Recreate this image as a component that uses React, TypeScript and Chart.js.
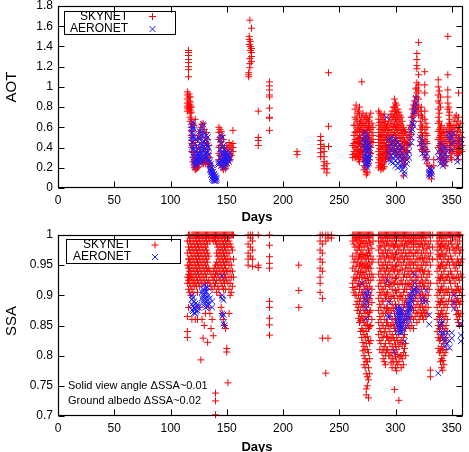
import { useEffect, useRef } from 'react';
import { Chart, registerables } from 'chart.js';

Chart.register(...registerables);

type Column = [number, number[]];

const FONT = '"Liberation Sans", Arial, Helvetica, sans-serif';
const RED = '#ff0000';
const BLUE = '#1a1aff';

const dayTicks = [0, 50, 100, 150, 200, 250, 300, 350];
const dayTickLabels = ['0', '50', '100', '150', '200', '250', '300', '350'];
const aotTicks = [0, 0.2, 0.4, 0.6, 0.8, 1, 1.2, 1.4, 1.6, 1.8];
const aotTickLabels = ['0', '0.2', '0.4', '0.6', '0.8', '1', '1.2', '1.4', '1.6', '1.8'];
const ssaTicks = [0.7, 0.75, 0.8, 0.85, 0.9, 0.95, 1];
const ssaTickLabels = ['0.7', '0.75', '0.8', '0.85', '0.9', '0.95', '1'];

const seriesNames = ['SKYNET', 'AERONET'];
const notes = ['Solid view angle \u0394SSA~0.01', 'Ground albedo \u0394SSA~0.02'];

// AOT, SKYNET: [day, values observed that day]
const skynetAot: Column[] = [
  [115, [0.95, 0.92, 0.88, 0.84, 0.81, 0.79, 0.76]],
  [116, [1.36, 1.34, 1.31, 1.27, 1.24, 1.2, 1.17, 1.1]],
  [116.5, [0.93, 0.9, 0.86, 0.83, 0.8, 0.78]],
  [117.5, [0.9, 0.85, 0.82, 0.8, 0.77, 0.74, 0.7, 0.66]],
  [118.5, [0.8, 0.75, 0.68, 0.63, 0.6, 0.57, 0.52]],
  [119, [0.6, 0.56, 0.5, 0.47, 0.44, 0.4, 0.36]],
  [120, [0.64, 0.52, 0.42, 0.35, 0.3, 0.26]],
  [121, [0.62, 0.33, 0.28, 0.25, 0.22, 0.2]],
  [122, [0.68, 0.45, 0.3, 0.24, 0.2, 0.18]],
  [123, [0.4, 0.28, 0.22, 0.19]],
  [124, [0.48, 0.35, 0.25, 0.2]],
  [125, [0.52, 0.3, 0.24, 0.21]],
  [126, [0.56, 0.4, 0.32, 0.26]],
  [127, [0.6, 0.5, 0.36, 0.28]],
  [128, [0.63, 0.45, 0.3, 0.25]],
  [129, [0.64, 0.55, 0.38, 0.27, 0.24]],
  [130, [0.58, 0.42, 0.3, 0.26]],
  [131, [0.5, 0.36, 0.28, 0.24]],
  [132, [0.55, 0.44, 0.32, 0.27]],
  [133, [0.48, 0.38, 0.3, 0.25]],
  [134, [0.42, 0.34, 0.27, 0.23]],
  [135, [0.3, 0.24, 0.21]],
  [136, [0.22, 0.17]],
  [137, [0.18, 0.14]],
  [138, [0.15, 0.1]],
  [139, [0.12, 0.08]],
  [140, [0.09]],
  [143, [0.6, 0.55, 0.48, 0.4, 0.34, 0.28]],
  [144, [0.58, 0.5, 0.42, 0.32, 0.26]],
  [145, [0.56, 0.46, 0.36, 0.28, 0.22]],
  [146, [0.52, 0.42, 0.32, 0.25, 0.2]],
  [147, [0.48, 0.36, 0.28, 0.22, 0.18]],
  [148, [0.4, 0.33, 0.26, 0.21]],
  [149, [0.36, 0.3, 0.24, 0.19]],
  [150, [0.42, 0.34, 0.27, 0.22]],
  [151, [0.4, 0.32, 0.26]],
  [152, [0.45, 0.38, 0.3]],
  [153, [0.42, 0.34, 0.28]],
  [154, [0.4, 0.32]],
  [155.5, [0.57, 0.44, 0.4, 0.36]],
  [169.5, [1.14, 1.12, 1.1]],
  [170, [1.5, 1.47, 1.42]],
  [170.5, [1.66, 1.28, 1.23, 1.19]],
  [171, [1.45, 1.4, 1.36]],
  [172, [1.58, 1.38, 1.34, 1.3, 1.25]],
  [178, [0.76, 0.5, 0.47, 0.42]],
  [188, [1.05, 1.01, 0.97, 0.92, 0.9, 0.79, 0.7, 0.69, 0.57]],
  [212.5, [0.36, 0.33]],
  [233.5, [0.51, 0.47, 0.43, 0.39, 0.35, 0.31]],
  [236.5, [0.41, 0.36, 0.31, 0.26, 0.22, 0.19]],
  [239, [0.24, 0.19, 0.15]],
  [240.5, [1.14, 0.61, 0.41]],
  [262, [0.42, 0.33, 0.3]],
  [263, [0.62, 0.52, 0.44, 0.36]],
  [264, [0.78, 0.7, 0.62, 0.55, 0.48, 0.4, 0.34, 0.3]],
  [265, [0.82, 0.68, 0.56, 0.46, 0.38, 0.31]],
  [266, [0.74, 0.66, 0.58, 0.52, 0.45, 0.38, 0.32]],
  [267, [0.76, 0.6, 0.49, 0.41, 0.34, 0.28]],
  [268, [0.8, 0.72, 0.64, 0.56, 0.5, 0.44, 0.36, 0.3, 0.26]],
  [269, [0.66, 0.58, 0.5, 0.43, 0.37, 0.31]],
  [270, [1.05, 0.7, 0.62, 0.55, 0.47, 0.41, 0.35]],
  [271, [0.74, 0.64, 0.56, 0.49, 0.43, 0.38, 0.33, 0.28]],
  [272, [0.68, 0.6, 0.52, 0.46, 0.4, 0.3, 0.22, 0.18]],
  [273, [0.7, 0.62, 0.54, 0.49, 0.43, 0.35, 0.27, 0.2]],
  [274, [0.72, 0.64, 0.57, 0.48, 0.42, 0.36, 0.26, 0.16, 0.13]],
  [275, [0.68, 0.58, 0.52, 0.45, 0.39, 0.29, 0.22, 0.15]],
  [276, [0.66, 0.6, 0.5, 0.44, 0.38, 0.32, 0.24]],
  [277, [0.7, 0.62, 0.55, 0.48, 0.41, 0.35, 0.28]],
  [278, [0.74, 0.58, 0.46, 0.4, 0.34]],
  [279, [0.64, 0.55, 0.48]],
  [280, [0.6, 0.52, 0.45]],
  [285, [0.76, 0.68, 0.62, 0.55, 0.48, 0.42, 0.36, 0.3, 0.25, 0.2]],
  [286, [0.74, 0.65, 0.58, 0.51, 0.45, 0.39, 0.33, 0.28, 0.22]],
  [287, [0.72, 0.65, 0.58, 0.52, 0.45, 0.38, 0.32, 0.27, 0.22, 0.18]],
  [288, [0.68, 0.6, 0.53, 0.47, 0.41, 0.34, 0.29, 0.23, 0.2]],
  [289, [0.7, 0.62, 0.55, 0.5, 0.44, 0.36, 0.3, 0.24, 0.19]],
  [290, [0.73, 0.64, 0.57, 0.48, 0.4, 0.33, 0.26, 0.21]],
  [291, [0.66, 0.58, 0.5, 0.42, 0.35, 0.28]],
  [292, [0.6, 0.52, 0.45, 0.38, 0.31]],
  [293, [0.62, 0.55, 0.48, 0.4, 0.34]],
  [294, [0.66, 0.57, 0.5, 0.43, 0.36, 0.29]],
  [295, [0.7, 0.6, 0.52, 0.45, 0.38, 0.3]],
  [296, [0.73, 0.64, 0.55, 0.47, 0.4, 0.33]],
  [297, [0.76, 0.68, 0.58, 0.5, 0.42]],
  [298, [0.8, 0.7, 0.61, 0.53, 0.45, 0.37]],
  [299, [0.88, 0.8, 0.72, 0.63, 0.55, 0.46, 0.38]],
  [300, [0.84, 0.76, 0.68, 0.6, 0.52, 0.44, 0.36]],
  [301, [0.82, 0.74, 0.66, 0.58, 0.5, 0.42, 0.34]],
  [302, [0.78, 0.7, 0.62, 0.55, 0.47, 0.39, 0.32]],
  [303, [0.75, 0.68, 0.6, 0.52, 0.44, 0.36, 0.3]],
  [304, [0.72, 0.64, 0.57, 0.49, 0.41, 0.33]],
  [305, [0.7, 0.62, 0.54, 0.46, 0.38, 0.3]],
  [306, [0.66, 0.58, 0.5, 0.42, 0.34, 0.26]],
  [307, [0.6, 0.5, 0.4, 0.3, 0.22, 0.12]],
  [308, [0.56, 0.46, 0.38, 0.3, 0.24]],
  [309, [0.55, 0.45, 0.36, 0.28]],
  [310, [0.52, 0.44, 0.37, 0.3]],
  [311, [0.5, 0.42, 0.35]],
  [312, [0.58, 0.5, 0.43]],
  [313, [0.62, 0.55, 0.48]],
  [314, [0.7, 0.6, 0.53]],
  [315, [0.78, 0.7, 0.62]],
  [316, [0.82, 0.74, 0.66]],
  [317, [0.86, 0.8, 0.74]],
  [318, [0.98, 0.9, 0.84, 0.78]],
  [319, [1.33, 1.27, 1.21, 1.18, 1.04, 0.99, 0.94, 0.9, 0.82, 0.76]],
  [320.5, [1.44, 1.12, 1.02, 0.96, 0.88, 0.8, 0.72]],
  [322, [0.76, 0.66, 0.58, 0.5, 0.42]],
  [323, [0.8, 0.72, 0.62, 0.55, 0.46, 0.38]],
  [324, [0.7, 0.6, 0.52, 0.44, 0.36]],
  [326, [1.15, 1.02, 0.94, 0.76, 0.68, 0.58, 0.48, 0.4, 0.33]],
  [327, [0.64, 0.54, 0.46, 0.38, 0.3]],
  [328, [0.6, 0.52, 0.44, 0.36, 0.28, 0.24]],
  [330, [0.22, 0.16, 0.12]],
  [332, [0.2, 0.14, 0.09]],
  [334, [0.28, 0.22]],
  [338, [1.07, 1.0, 0.92, 0.86, 0.78, 0.7, 0.64, 0.56, 0.48, 0.4]],
  [339, [0.96, 0.84, 0.74, 0.66, 0.58, 0.5, 0.42, 0.34]],
  [340, [0.9, 0.8, 0.6, 0.52, 0.44, 0.36, 0.28]],
  [341, [0.62, 0.54, 0.46, 0.38, 0.3]],
  [342, [0.55, 0.46, 0.38, 0.3, 0.24]],
  [343, [0.58, 0.5, 0.42, 0.34, 0.27]],
  [344, [0.52, 0.44, 0.36, 0.28, 0.22]],
  [345, [0.56, 0.48, 0.4, 0.32, 0.26]],
  [346.5, [1.5, 1.12, 0.97, 0.9, 0.84, 0.78, 0.6, 0.5, 0.42]],
  [347.5, [0.8, 0.72, 0.64, 0.56, 0.48]],
  [348, [0.75, 0.68, 0.62, 0.55, 0.46, 0.38]],
  [349, [0.62, 0.54, 0.46, 0.38, 0.3]],
  [350, [0.58, 0.5, 0.42, 0.34, 0.28]],
  [351, [0.6, 0.52, 0.44, 0.36]],
  [352, [0.66, 0.56, 0.46, 0.38]],
  [353, [0.7, 0.6, 0.5, 0.42]],
  [354, [0.72, 0.62, 0.52, 0.44, 0.36]],
  [355, [0.66, 0.56, 0.47, 0.4, 0.32]],
  [356, [0.94, 0.7, 0.6, 0.5, 0.42, 0.34, 0.28]],
  [357, [0.6, 0.5, 0.42, 0.35]],
  [358, [0.64, 0.55, 0.46, 0.38]],
  [359, [0.5, 0.42, 0.36]],
];

// AOT, AERONET
const aeronetAot: Column[] = [
  [119, [0.62, 0.58, 0.55, 0.5, 0.45, 0.4]],
  [120, [0.65, 0.6, 0.52, 0.46, 0.38, 0.33]],
  [121, [0.58, 0.5, 0.4, 0.3, 0.26]],
  [122, [0.48, 0.35, 0.28, 0.24, 0.21]],
  [123, [0.36, 0.32, 0.27, 0.23]],
  [124, [0.42, 0.34, 0.29]],
  [125, [0.5, 0.38, 0.31, 0.26]],
  [126, [0.56, 0.48, 0.4, 0.33]],
  [127, [0.55, 0.44, 0.36, 0.3, 0.25]],
  [128, [0.6, 0.52, 0.42, 0.34, 0.28]],
  [129, [0.63, 0.5, 0.4, 0.32, 0.26]],
  [130, [0.55, 0.46, 0.38, 0.3]],
  [131, [0.48, 0.4, 0.34, 0.28]],
  [132, [0.52, 0.44, 0.36, 0.31]],
  [133, [0.5, 0.42, 0.35]],
  [134, [0.4, 0.33, 0.28]],
  [135, [0.26, 0.22, 0.18]],
  [136, [0.24, 0.2, 0.16, 0.13]],
  [137, [0.18, 0.14, 0.11, 0.09]],
  [138, [0.16, 0.12, 0.1, 0.08]],
  [139, [0.14, 0.11, 0.08, 0.07]],
  [140, [0.12, 0.09, 0.07]],
  [141, [0.1, 0.08]],
  [142.5, [0.25, 0.23]],
  [144, [0.48, 0.38, 0.3, 0.25]],
  [145, [0.52, 0.44, 0.35, 0.28, 0.22]],
  [146, [0.5, 0.4, 0.33, 0.26]],
  [147, [0.42, 0.35, 0.29, 0.24, 0.2]],
  [148, [0.38, 0.31, 0.26, 0.21]],
  [149, [0.34, 0.28, 0.23]],
  [150, [0.36, 0.3, 0.25]],
  [151, [0.33, 0.27]],
  [152, [0.3, 0.26]],
  [153, [0.35, 0.29]],
  [271, [0.48, 0.42]],
  [273, [0.55, 0.5, 0.44, 0.38, 0.32, 0.28, 0.24]],
  [274, [0.52, 0.46, 0.4, 0.35, 0.3, 0.26, 0.22]],
  [275, [0.48, 0.42, 0.36, 0.31, 0.27, 0.23, 0.2]],
  [276, [0.44, 0.38, 0.33, 0.28, 0.25]],
  [277, [0.4, 0.34, 0.3]],
  [292, [0.7]],
  [294, [0.48, 0.4, 0.34, 0.28]],
  [296, [0.5, 0.44, 0.38, 0.32, 0.26]],
  [298, [0.46, 0.4, 0.35, 0.3, 0.25]],
  [300, [0.48, 0.42, 0.36, 0.31, 0.27, 0.22]],
  [302, [0.45, 0.4, 0.34, 0.29, 0.24, 0.2]],
  [304, [0.42, 0.37, 0.32, 0.27, 0.22]],
  [306, [0.4, 0.34, 0.28, 0.22, 0.18]],
  [308, [0.3, 0.22, 0.16, 0.13]],
  [310, [0.34, 0.28, 0.24]],
  [312, [0.42, 0.36, 0.3]],
  [314, [0.56, 0.5, 0.45]],
  [315, [0.64, 0.58]],
  [316, [0.74, 0.68, 0.62]],
  [317, [0.8, 0.76]],
  [318, [0.89, 0.84]],
  [322, [0.5, 0.44]],
  [324, [0.46, 0.4, 0.34]],
  [326, [0.42, 0.36, 0.3]],
  [328, [0.34, 0.28]],
  [330, [0.2, 0.16, 0.13]],
  [331, [0.19, 0.15, 0.12]],
  [332, [0.17, 0.14]],
  [338, [0.36, 0.3]],
  [340, [0.44, 0.38, 0.32, 0.28, 0.24]],
  [342, [0.42, 0.36, 0.3, 0.26, 0.22]],
  [344, [0.4, 0.34, 0.28, 0.24]],
  [346, [0.36, 0.3]],
  [347.5, [0.54, 0.5]],
  [350, [0.5, 0.44, 0.38]],
  [352, [0.54, 0.46]],
  [355, [0.3, 0.26]],
  [358, [0.48, 0.43]],
];

// SSA, SKYNET
const skynetSsa: Column[] = [
  [115, [0.99, 0.97, 0.95, 0.93, 0.92, 0.865, 0.84, 0.83]],
  [116, [1.0, 0.98, 0.96, 0.945, 0.935, 0.925, 0.91, 0.88]],
  [117, [1.0, 0.99, 0.975, 0.96, 0.95, 0.94, 0.93, 0.92, 0.905]],
  [118, [0.995, 0.985, 0.97, 0.955, 0.94, 0.93, 0.915, 0.9]],
  [119, [1.0, 0.98, 0.965, 0.95, 0.935, 0.925, 0.91, 0.86]],
  [120, [1.0, 0.99, 0.975, 0.96, 0.945, 0.93, 0.92, 0.905]],
  [121, [1.0, 0.985, 0.97, 0.955, 0.94, 0.925, 0.915]],
  [122, [1.0, 0.995, 0.98, 0.965, 0.95, 0.935, 0.92, 0.86]],
  [123, [1.0, 0.99, 0.975, 0.96, 0.945, 0.93, 0.915]],
  [124, [1.0, 0.985, 0.97, 0.955, 0.94, 0.925, 0.905, 0.86]],
  [125, [1.0, 0.995, 0.98, 0.965, 0.95, 0.935, 0.92]],
  [126, [1.0, 0.99, 0.975, 0.96, 0.945, 0.93, 0.915, 0.88]],
  [127, [1.0, 0.985, 0.97, 0.955, 0.94, 0.925, 0.793]],
  [128, [1.0, 0.995, 0.98, 0.965, 0.95, 0.935, 0.92, 0.86]],
  [129, [1.0, 0.99, 0.975, 0.96, 0.945, 0.93, 0.829]],
  [130, [1.0, 0.985, 0.97, 0.955, 0.94, 0.925, 0.85]],
  [131, [1.0, 0.995, 0.98, 0.965, 0.95, 0.935, 0.92, 0.87]],
  [132, [1.0, 0.99, 0.975, 0.96, 0.945, 0.93, 0.91]],
  [133, [1.0, 0.985, 0.97, 0.955, 0.94, 0.92, 0.822]],
  [134, [1.0, 0.995, 0.965, 0.945, 0.925, 0.88]],
  [135, [1.0, 0.99, 0.94, 0.92, 0.87]],
  [136, [1.0, 0.935, 0.915, 0.845]],
  [137, [1.0, 0.995, 0.93, 0.91, 0.86]],
  [138, [1.0, 0.99, 0.94, 0.925, 0.833]],
  [139, [1.0, 0.995, 0.945, 0.93, 0.915]],
  [140, [1.0, 0.99, 0.95, 0.935, 0.92, 0.738, 0.725, 0.702]],
  [141, [1.0, 0.985, 0.97, 0.955, 0.94, 0.925, 0.905]],
  [142, [1.0, 0.995, 0.98, 0.965, 0.95, 0.935, 0.915]],
  [143, [1.0, 0.99, 0.975, 0.96, 0.945, 0.93, 0.91]],
  [144, [1.0, 0.985, 0.97, 0.955, 0.94, 0.925, 0.9]],
  [145, [1.0, 0.995, 0.98, 0.965, 0.95, 0.935, 0.92, 0.88]],
  [146, [1.0, 0.99, 0.975, 0.96, 0.945, 0.93, 0.915, 0.87]],
  [147, [1.0, 0.985, 0.97, 0.955, 0.94, 0.925, 0.91, 0.86]],
  [148, [1.0, 0.995, 0.98, 0.965, 0.95, 0.935, 0.92, 0.85]],
  [149, [1.0, 0.99, 0.975, 0.96, 0.945, 0.93, 0.91, 0.845]],
  [150, [1.0, 0.985, 0.97, 0.955, 0.94, 0.925, 0.812, 0.806]],
  [151, [1.0, 0.995, 0.98, 0.96, 0.94, 0.92, 0.755]],
  [152, [1.0, 0.99, 0.97, 0.95, 0.93, 0.91, 0.87]],
  [153, [1.0, 0.985, 0.96, 0.94, 0.92, 0.9]],
  [154, [1.0, 0.98, 0.95, 0.93, 0.905]],
  [155, [1.0, 0.975, 0.94, 0.915]],
  [156, [1.0, 0.96, 0.93]],
  [169, [1.0, 0.985, 0.97, 0.96, 0.95]],
  [171, [1.0, 0.995, 0.98, 0.965]],
  [173, [1.0, 0.99, 0.975, 0.96, 0.948]],
  [178, [1.0, 0.95, 0.946]],
  [188, [1.0, 0.983, 0.964, 0.953, 0.945, 0.89, 0.88, 0.862, 0.851, 0.834]],
  [214, [0.95, 0.908, 0.88]],
  [233, [1.0, 0.99, 0.975, 0.96, 0.945, 0.93, 0.92, 0.905]],
  [235, [1.0, 0.985, 0.97, 0.955, 0.94, 0.895, 0.829]],
  [238, [1.0, 0.99, 0.771]],
  [240, [1.0, 0.995, 0.829]],
  [243, [1.0, 0.995]],
  [262, [1.0, 0.99, 0.965, 0.945, 0.92, 0.913]],
  [263, [1.0, 0.985, 0.955, 0.93, 0.905]],
  [264, [1.0, 0.995, 0.98, 0.96, 0.94, 0.925, 0.91, 0.9]],
  [265, [1.0, 0.992, 0.97, 0.948, 0.928, 0.9, 0.885]],
  [266, [1.0, 0.99, 0.975, 0.955, 0.935, 0.915, 0.89, 0.875]],
  [267, [1.0, 0.982, 0.962, 0.94, 0.92, 0.9, 0.88, 0.862]],
  [268, [1.0, 0.995, 0.98, 0.965, 0.95, 0.93, 0.91, 0.89, 0.87, 0.855]],
  [269, [1.0, 0.987, 0.968, 0.952, 0.938, 0.918, 0.895, 0.875, 0.858, 0.84]],
  [270, [1.0, 0.99, 0.975, 0.96, 0.945, 0.93, 0.905, 0.885, 0.865, 0.845, 0.83]],
  [271, [1.0, 0.986, 0.968, 0.952, 0.938, 0.922, 0.902, 0.882, 0.862, 0.842, 0.822, 0.808]],
  [272, [1.0, 0.995, 0.98, 0.965, 0.95, 0.935, 0.915, 0.895, 0.875, 0.855, 0.835, 0.815, 0.8, 0.785]],
  [273, [1.0, 0.986, 0.962, 0.946, 0.928, 0.91, 0.89, 0.87, 0.85, 0.83, 0.81, 0.795, 0.78]],
  [274, [1.0, 0.99, 0.97, 0.955, 0.94, 0.92, 0.9, 0.88, 0.86, 0.84, 0.82, 0.79, 0.77, 0.745, 0.735]],
  [275, [1.0, 0.982, 0.966, 0.948, 0.93, 0.912, 0.892, 0.872, 0.852, 0.832, 0.81, 0.79, 0.765, 0.75]],
  [276, [1.0, 0.995, 0.975, 0.96, 0.945, 0.925, 0.905, 0.885, 0.865, 0.845, 0.825, 0.805, 0.78, 0.76, 0.73]],
  [277, [1.0, 0.988, 0.97, 0.952, 0.935, 0.915, 0.895, 0.872, 0.848, 0.82, 0.795, 0.77]],
  [278, [1.0, 0.985, 0.965, 0.945, 0.925, 0.9, 0.875, 0.85, 0.825]],
  [279, [1.0, 0.978, 0.955, 0.935, 0.91, 0.888, 0.86]],
  [280, [1.0, 0.99, 0.96, 0.93]],
  [285, [1.0, 0.99, 0.975, 0.955, 0.935, 0.915, 0.895, 0.875, 0.855, 0.835]],
  [286, [1.0, 0.982, 0.965, 0.945, 0.925, 0.905, 0.885, 0.865, 0.845, 0.825, 0.81]],
  [287, [1.0, 0.995, 0.98, 0.96, 0.94, 0.92, 0.9, 0.88, 0.86, 0.84, 0.82]],
  [288, [1.0, 0.988, 0.97, 0.95, 0.93, 0.91, 0.89, 0.87, 0.85, 0.83, 0.805]],
  [289, [1.0, 0.99, 0.97, 0.95, 0.93, 0.91, 0.89, 0.87, 0.85, 0.83, 0.81, 0.795]],
  [290, [1.0, 0.982, 0.962, 0.942, 0.922, 0.902, 0.88, 0.86, 0.838, 0.815, 0.79]],
  [291, [1.0, 0.995, 0.975, 0.955, 0.935, 0.915, 0.895, 0.87, 0.845, 0.82, 0.8, 0.785]],
  [292, [1.0, 0.985, 0.965, 0.945, 0.925, 0.902, 0.878, 0.855, 0.832, 0.808]],
  [293, [1.0, 0.99, 0.97, 0.95, 0.93, 0.905, 0.88, 0.855, 0.83, 0.81]],
  [294, [1.0, 0.982, 0.962, 0.94, 0.918, 0.895, 0.872, 0.848, 0.825, 0.8]],
  [295, [1.0, 0.995, 0.975, 0.955, 0.935, 0.915, 0.89, 0.865, 0.84, 0.82, 0.8]],
  [296, [1.0, 0.985, 0.965, 0.945, 0.922, 0.898, 0.875, 0.85, 0.828, 0.805, 0.788]],
  [297, [1.0, 0.99, 0.97, 0.95, 0.93, 0.91, 0.885, 0.86, 0.835, 0.815, 0.795, 0.78]],
  [298, [1.0, 0.982, 0.962, 0.942, 0.92, 0.9, 0.878, 0.852, 0.83, 0.81, 0.79]],
  [299, [1.0, 0.995, 0.98, 0.96, 0.94, 0.92, 0.895, 0.87, 0.845, 0.825, 0.805, 0.744]],
  [300, [1.0, 0.985, 0.968, 0.948, 0.928, 0.908, 0.885, 0.862, 0.84, 0.818, 0.798, 0.78]],
  [301, [1.0, 0.99, 0.97, 0.95, 0.93, 0.905, 0.88, 0.855, 0.83, 0.81, 0.79, 0.775]],
  [302, [1.0, 0.98, 0.96, 0.94, 0.918, 0.895, 0.87, 0.848, 0.825, 0.802, 0.785]],
  [303, [1.0, 0.995, 0.975, 0.955, 0.935, 0.91, 0.885, 0.86, 0.835, 0.815, 0.79, 0.726]],
  [304, [1.0, 0.982, 0.962, 0.942, 0.92, 0.898, 0.872, 0.848, 0.822, 0.798]],
  [305, [1.0, 0.99, 0.97, 0.95, 0.925, 0.9, 0.875, 0.85, 0.825, 0.8, 0.78]],
  [306, [1.0, 0.985, 0.965, 0.942, 0.918, 0.892, 0.868, 0.842, 0.818, 0.795]],
  [307, [1.0, 0.995, 0.975, 0.955, 0.93, 0.905, 0.88, 0.855, 0.83, 0.805, 0.785]],
  [308, [1.0, 0.982, 0.96, 0.935, 0.91, 0.885, 0.86, 0.835, 0.812]],
  [309, [1.0, 0.99, 0.97, 0.945, 0.92, 0.895, 0.87, 0.845, 0.82, 0.8]],
  [310, [1.0, 0.985, 0.965, 0.95, 0.93, 0.91, 0.888, 0.862]],
  [311, [1.0, 0.995, 0.98, 0.96, 0.94, 0.92, 0.9, 0.875, 0.85]],
  [312, [1.0, 0.988, 0.97, 0.952, 0.935, 0.918, 0.9, 0.882, 0.865, 0.85]],
  [313, [1.0, 0.99, 0.975, 0.96, 0.945, 0.93, 0.915, 0.9, 0.88, 0.86, 0.845]],
  [314.5, [1.0, 0.995, 0.985, 0.97, 0.955, 0.94, 0.925, 0.91, 0.895, 0.88, 0.865, 0.85]],
  [316, [1.0, 0.99, 0.98, 0.965, 0.95, 0.935, 0.92, 0.905, 0.89, 0.875, 0.86, 0.845]],
  [317.5, [1.0, 0.995, 0.985, 0.97, 0.955, 0.94, 0.925, 0.91, 0.895, 0.88, 0.865]],
  [319, [1.0, 0.99, 0.975, 0.96, 0.945, 0.93, 0.915, 0.9, 0.885, 0.87, 0.855]],
  [320, [1.0, 0.985, 0.97, 0.95, 0.93, 0.91, 0.89, 0.872]],
  [321, [1.0, 0.995, 0.98, 0.96, 0.94, 0.92, 0.9, 0.88, 0.86]],
  [322, [1.0, 0.985, 0.962, 0.942, 0.92, 0.9, 0.88, 0.865]],
  [323, [1.0, 0.99, 0.97, 0.95, 0.93, 0.91, 0.89, 0.87]],
  [324, [1.0, 0.982, 0.962, 0.942, 0.922, 0.902, 0.882, 0.866]],
  [325, [1.0, 0.995, 0.975, 0.955, 0.935, 0.915, 0.895, 0.875, 0.86]],
  [326, [1.0, 0.985, 0.962, 0.94, 0.915, 0.892, 0.872]],
  [327, [1.0, 0.99, 0.97, 0.95, 0.925, 0.9, 0.88, 0.865]],
  [328, [1.0, 0.978, 0.955, 0.93, 0.91, 0.89, 0.87]],
  [329, [1.0, 0.985, 0.965, 0.94, 0.92, 0.9, 0.88]],
  [330, [1.0, 0.98, 0.96, 0.935, 0.91]],
  [331, [1.0, 0.99, 0.97, 0.95, 0.92, 0.776, 0.765]],
  [333, [1.0, 0.98, 0.96]],
  [337, [1.0, 0.99, 0.975, 0.96, 0.94, 0.92, 0.9, 0.88, 0.86, 0.84]],
  [338, [1.0, 0.985, 0.968, 0.95, 0.93, 0.91, 0.89, 0.87, 0.85, 0.83, 0.812]],
  [339, [1.0, 0.995, 0.98, 0.965, 0.945, 0.925, 0.905, 0.885, 0.865, 0.845, 0.825, 0.805]],
  [340, [1.0, 0.982, 0.965, 0.948, 0.928, 0.908, 0.888, 0.868, 0.848, 0.828, 0.808, 0.79]],
  [341, [1.0, 0.99, 0.975, 0.955, 0.935, 0.915, 0.895, 0.875, 0.855, 0.835, 0.815, 0.795, 0.78]],
  [342, [1.0, 0.985, 0.968, 0.95, 0.93, 0.91, 0.89, 0.87, 0.85, 0.83, 0.81, 0.792, 0.776]],
  [343, [1.0, 0.995, 0.98, 0.96, 0.94, 0.92, 0.9, 0.88, 0.86, 0.84, 0.82, 0.8, 0.785]],
  [344, [1.0, 0.982, 0.965, 0.945, 0.925, 0.905, 0.885, 0.865, 0.845, 0.825, 0.805]],
  [345, [1.0, 0.99, 0.97, 0.95, 0.93, 0.91, 0.89, 0.87, 0.85, 0.83, 0.81]],
  [346, [1.0, 0.978, 0.955, 0.93, 0.905, 0.88, 0.86, 0.84]],
  [347, [1.0, 0.985, 0.96, 0.935, 0.91, 0.89]],
  [348, [1.0, 0.975, 0.95, 0.925, 0.9]],
  [349, [1.0, 0.99, 0.965, 0.94, 0.92]],
  [350, [1.0, 0.985, 0.96, 0.935, 0.91, 0.892]],
  [351, [1.0, 0.98, 0.955, 0.93, 0.905, 0.885]],
  [352, [1.0, 0.975, 0.95, 0.928, 0.905, 0.89]],
  [353, [1.0, 0.992, 0.97, 0.945, 0.92, 0.9, 0.88]],
  [354, [1.0, 0.978, 0.952, 0.93, 0.908, 0.888, 0.868]],
  [355, [1.0, 0.985, 0.96, 0.94, 0.915, 0.895, 0.875, 0.86]],
  [356, [1.0, 0.98, 0.955, 0.93, 0.91, 0.89, 0.87, 0.855]],
  [357, [1.0, 0.99, 0.97, 0.95, 0.925, 0.905, 0.885, 0.865, 0.85]],
  [358, [1.0, 0.975, 0.955, 0.935, 0.91, 0.89, 0.87]],
  [359, [0.96, 0.93, 0.9]],
];

// SSA, AERONET
const aeronetSsa: Column[] = [
  [119, [0.9, 0.893, 0.885, 0.876]],
  [120, [0.896, 0.882, 0.874]],
  [121, [0.89, 0.879, 0.871]],
  [122, [0.886, 0.877, 0.87]],
  [123, [0.881, 0.873]],
  [124, [0.885, 0.875]],
  [125, [0.88]],
  [128, [0.905, 0.895]],
  [129, [0.91, 0.9, 0.89]],
  [130, [0.917, 0.905, 0.895, 0.885]],
  [131, [0.912, 0.9, 0.89, 0.88]],
  [132, [0.906, 0.895, 0.885]],
  [133, [0.913, 0.892, 0.882]],
  [134, [0.9, 0.886]],
  [135, [0.895]],
  [137, [0.89, 0.88]],
  [146, [0.932, 0.9, 0.895, 0.87, 0.865]],
  [147, [0.892, 0.868, 0.854]],
  [148, [0.85]],
  [270, [0.92]],
  [273, [0.905, 0.895, 0.885]],
  [274, [0.9, 0.89, 0.878, 0.861]],
  [276, [0.907, 0.9]],
  [293, [0.924]],
  [294, [0.889, 0.866, 0.863]],
  [299, [0.806]],
  [301, [0.875, 0.865, 0.855]],
  [302, [0.88, 0.87, 0.86, 0.85, 0.84]],
  [303, [0.875, 0.865, 0.855, 0.845]],
  [304, [0.88, 0.87, 0.86, 0.85, 0.84]],
  [305, [0.875, 0.865, 0.855, 0.845, 0.838]],
  [306, [0.87, 0.86, 0.85, 0.84]],
  [307, [0.865, 0.855, 0.845]],
  [308, [0.86, 0.85, 0.824]],
  [310, [0.87, 0.86, 0.85]],
  [311, [0.885, 0.875, 0.865]],
  [312, [0.89, 0.88, 0.87, 0.86]],
  [313, [0.895, 0.885, 0.875]],
  [314, [0.9, 0.89, 0.88]],
  [315, [0.905, 0.895]],
  [316, [0.91, 0.9]],
  [317, [0.934, 0.92, 0.91]],
  [320, [0.91, 0.905]],
  [324, [0.895, 0.89]],
  [327, [0.908, 0.89]],
  [330, [0.867, 0.852]],
  [338, [0.771]],
  [340, [0.86, 0.85, 0.84]],
  [341, [0.854, 0.836]],
  [343, [0.838, 0.829]],
  [344, [0.825, 0.815]],
  [346, [0.838, 0.82]],
  [348, [0.813, 0.825]],
  [350, [0.829, 0.838]],
  [352, [0.9, 0.888, 0.878]],
  [358, [0.853, 0.834, 0.824]],
];

const toPoints = (cols: Column[]) =>
  cols.flatMap(([day, values]) => values.map((v) => ({ x: day, y: v })));

interface PanelSpec {
  skynet: Column[];
  aeronet: Column[];
  yMin: number;
  yMax: number;
  yTicks: number[];
  yTickLabels: string[];
  yTitle: string;
  yTitleY: number;
  xTitleY: number;
  padTop: number;
  xAxisHeight: number;
  legend: { x: number; y: number; w: number; h: number; textRight: number; markX: number; row1: number; row2: number };
  notes: string[];
  notesX: number;
  notesY: number[];
}

const TICK_LEN = 6;

// Frame with inward ticks on all four sides, boxed legend, notes and axis titles
function decorPlugin(spec: PanelSpec) {
  return {
    id: 'decor',
    afterDatasetsDraw(chart: any) {
      const { ctx, chartArea: a, scales } = chart;
      const xs = scales.x;
      const ys = scales.y;
      ctx.save();
      ctx.strokeStyle = '#000';
      ctx.lineWidth = 1;
      const L = Math.round(a.left) + 0.5;
      const R = Math.round(a.right) - 0.5;
      const T = Math.round(a.top) + 0.5;
      const B = Math.round(a.bottom) - 0.5;
      ctx.beginPath();
      for (const t of xs.ticks) {
        const px = Math.round(xs.getPixelForValue(t.value)) + 0.5;
        ctx.moveTo(px, B);
        ctx.lineTo(px, B - TICK_LEN);
        ctx.moveTo(px, T);
        ctx.lineTo(px, T + TICK_LEN);
      }
      for (const t of ys.ticks) {
        const py = Math.round(ys.getPixelForValue(t.value)) + 0.5;
        ctx.moveTo(L, py);
        ctx.lineTo(L + TICK_LEN, py);
        ctx.moveTo(R, py);
        ctx.lineTo(R - TICK_LEN, py);
      }
      ctx.stroke();
      ctx.lineWidth = 1.2;
      ctx.strokeRect(L, T, R - L, B - T);

      // legend
      const lg = spec.legend;
      ctx.lineWidth = 1;
      ctx.strokeStyle = '#000';
      ctx.strokeRect(lg.x + 0.5, lg.y + 0.5, lg.w, lg.h);
      ctx.fillStyle = '#000';
      ctx.font = `12px ${FONT}`;
      ctx.textAlign = 'right';
      ctx.textBaseline = 'middle';
      const names = chart.data.datasets.map((d: any) => d.label);
      ctx.fillText(names[0], lg.textRight, lg.row1);
      ctx.fillText(names[1], lg.textRight, lg.row2);
      ctx.beginPath();
      ctx.strokeStyle = RED;
      ctx.moveTo(lg.markX - 3.5, lg.row1);
      ctx.lineTo(lg.markX + 3.5, lg.row1);
      ctx.moveTo(lg.markX, lg.row1 - 3.5);
      ctx.lineTo(lg.markX, lg.row1 + 3.5);
      ctx.stroke();
      ctx.beginPath();
      ctx.strokeStyle = BLUE;
      ctx.moveTo(lg.markX - 3, lg.row2 - 3);
      ctx.lineTo(lg.markX + 3, lg.row2 + 3);
      ctx.moveTo(lg.markX - 3, lg.row2 + 3);
      ctx.lineTo(lg.markX + 3, lg.row2 - 3);
      ctx.stroke();

      // notes
      ctx.fillStyle = '#000';
      ctx.font = `11px ${FONT}`;
      ctx.textAlign = 'left';
      spec.notes.forEach((n, i) => ctx.fillText(n, spec.notesX, spec.notesY[i]));

      // axis titles
      ctx.font = `bold 13px ${FONT}`;
      ctx.textAlign = 'center';
      ctx.fillText('Days', 257, spec.xTitleY);
      ctx.font = `15px ${FONT}`;
      ctx.translate(12, spec.yTitleY);
      ctx.rotate(-Math.PI / 2);
      ctx.fillText(spec.yTitle, 0, 0);
      ctx.restore();
    },
  };
}

function makeConfig(spec: PanelSpec): any {
  const tickFont = { family: FONT, size: 12 };
  return {
    type: 'scatter',
    data: {
      datasets: [
        {
          label: seriesNames[0],
          data: toPoints(spec.skynet),
          pointStyle: 'cross',
          pointRadius: 3.5,
          pointHoverRadius: 3.5,
          borderColor: RED,
          backgroundColor: RED,
          borderWidth: 1,
          order: 2,
          clip: false,
        },
        {
          label: seriesNames[1],
          data: toPoints(spec.aeronet),
          pointStyle: 'crossRot',
          pointRadius: 4.2,
          pointHoverRadius: 4.2,
          borderColor: BLUE,
          backgroundColor: BLUE,
          borderWidth: 1,
          order: 1,
          clip: false,
        },
      ],
    },
    options: {
      animation: false,
      responsive: false,
      events: [],
      layout: { padding: { left: 0, right: 6, top: spec.padTop, bottom: 0 } },
      plugins: { legend: { display: false }, tooltip: { enabled: false } },
      scales: {
        x: {
          type: 'linear',
          min: 0,
          max: 360,
          grid: { display: false, drawTicks: false },
          border: { display: false },
          ticks: {
            padding: 5,
            color: '#000',
            font: tickFont,
            autoSkip: false,
            maxRotation: 0,
            callback: (_v: number, i: number) => dayTickLabels[i],
          },
          afterBuildTicks: (s: any) => {
            s.ticks = dayTicks.map((value) => ({ value }));
          },
          afterFit: (s: any) => {
            s.height = spec.xAxisHeight;
            s.paddingLeft = 0;
            s.paddingRight = 0;
          },
        },
        y: {
          type: 'linear',
          min: spec.yMin,
          max: spec.yMax,
          grid: { display: false, drawTicks: false },
          border: { display: false },
          ticks: {
            padding: 5,
            color: '#000',
            font: tickFont,
            autoSkip: false,
            callback: (_v: number, i: number) => spec.yTickLabels[i],
          },
          afterBuildTicks: (s: any) => {
            s.ticks = spec.yTicks.map((value) => ({ value }));
          },
          afterFit: (s: any) => {
            s.width = 58;
            s.paddingTop = 0;
            s.paddingBottom = 0;
          },
        },
      },
    },
    plugins: [decorPlugin(spec)],
  };
}

const aotPanel: PanelSpec = {
  skynet: skynetAot,
  aeronet: aeronetAot,
  yMin: 0,
  yMax: 1.8,
  yTicks: aotTicks,
  yTickLabels: aotTickLabels,
  yTitle: 'AOT',
  yTitleY: 87,
  xTitleY: 217,
  padTop: 6,
  xAxisHeight: 38,
  legend: { x: 64, y: 11, w: 111, h: 23, textRight: 128, markX: 152.5, row1: 16.5, row2: 29 },
  notes: [],
  notesX: 68,
  notesY: [],
};

const ssaPanel: PanelSpec = {
  skynet: skynetSsa,
  aeronet: aeronetSsa,
  yMin: 0.7,
  yMax: 1,
  yTicks: ssaTicks,
  yTickLabels: ssaTickLabels,
  yTitle: 'SSA',
  yTitleY: 95,
  xTitleY: 221,
  padTop: 9,
  xAxisHeight: 36,
  legend: { x: 66, y: 13, w: 114, h: 24, textRight: 131, markX: 155, row1: 19, row2: 31 },
  notes,
  notesX: 68,
  notesY: [160, 175],
};

function Panel({ spec, top }: { spec: PanelSpec; top: number }) {
  const ref = useRef<HTMLCanvasElement | null>(null);
  useEffect(() => {
    if (!ref.current) return;
    const chart = new Chart(ref.current, makeConfig(spec));
    return () => chart.destroy();
  }, [spec]);
  return (
    <canvas
      ref={ref}
      width={469}
      height={226}
      style={{ position: 'absolute', left: 0, top, width: 469, height: 226, display: 'block' }}
    />
  );
}

export default function App() {
  return (
    <div style={{ position: 'absolute', left: 0, top: 0, width: 469, height: 452, background: '#fff', overflow: 'hidden' }}>
      <Panel spec={aotPanel} top={0} />
      <Panel spec={ssaPanel} top={226} />
    </div>
  );
}
